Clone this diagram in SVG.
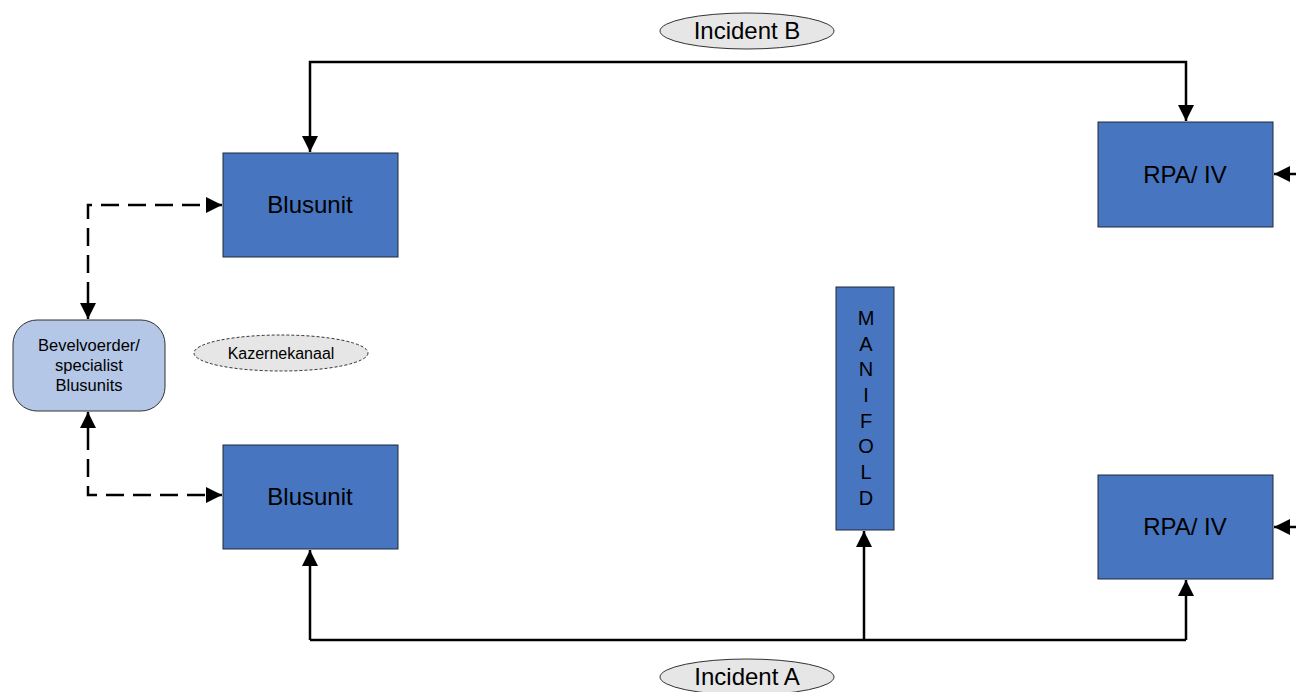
<svg xmlns="http://www.w3.org/2000/svg" width="1296" height="692" viewBox="0 0 1296 692">
<style>
.box{fill:#4775BF;stroke:#1F2A3A;stroke-width:1}
.t{font-family:"Liberation Sans",Arial,sans-serif;fill:#000;text-anchor:middle}
.line{fill:none;stroke:#000;stroke-width:2.5}
.dash{fill:none;stroke:#000;stroke-width:2.5;stroke-dasharray:18 9}
.ell{fill:#E6E6E6;stroke:#333;stroke-width:1}
</style>
<defs>
<marker id="ah" viewBox="0 0 10 10" refX="10" refY="5" markerWidth="6.5" markerHeight="6.5" markerUnits="strokeWidth" orient="auto">
<path d="M0,0 L10,5 L0,10 Z" fill="#000"/>
</marker>
</defs>
<rect width="1296" height="692" fill="#fff"/>
<g id="connectors">
<path class="line" d="M310,80 L310,62 L1186,62 L1186,80"/>
<path class="line" d="M310,80 L310,152" marker-end="url(#ah)"/>
<path class="line" d="M1186,80 L1186,121" marker-end="url(#ah)"/>
<path class="line" d="M310,640 L1186,640"/>
<path class="line" d="M310,640 L310,550" marker-end="url(#ah)"/>
<path class="line" d="M864,640 L864,531" marker-end="url(#ah)"/>
<path class="line" d="M1186,640 L1186,580" marker-end="url(#ah)"/>
<path class="line" d="M1296,174 L1274,174" marker-end="url(#ah)"/>
<path class="line" d="M1296,527 L1274,527" marker-end="url(#ah)"/>
<path class="dash" d="M88,300 L88,205 L222,205" marker-end="url(#ah)"/>
<path class="line" d="M88,300 L88,319" marker-end="url(#ah)"/>
<path class="dash" d="M88,432 L88,495 L222,495" marker-end="url(#ah)"/>
<path class="line" d="M88,432 L88,412" marker-end="url(#ah)"/>
</g>
<g id="incidentB">
<ellipse class="ell" cx="747" cy="31" rx="87" ry="18"/>
<text class="t" x="747" y="39" font-size="24">Incident B</text>
</g>
<g id="incidentA">
<ellipse class="ell" cx="747" cy="677" rx="87" ry="18"/>
<text class="t" x="747" y="685" font-size="24">Incident A</text>
</g>
<g id="blusunit1">
<rect class="box" x="223" y="153" width="175" height="104"/>
<text class="t" x="310" y="213" font-size="24">Blusunit</text>
</g>
<g id="blusunit2">
<rect class="box" x="223" y="445" width="175" height="104"/>
<text class="t" x="310" y="505" font-size="24">Blusunit</text>
</g>
<g id="rpa1">
<rect class="box" x="1098" y="122" width="175" height="105"/>
<text class="t" x="1185" y="183" font-size="24">RPA/ IV</text>
</g>
<g id="rpa2">
<rect class="box" x="1098" y="475" width="175" height="104"/>
<text class="t" x="1185" y="535" font-size="24">RPA/ IV</text>
</g>
<g id="manifold">
<rect class="box" x="836" y="287" width="58" height="243"/>
<g class="t" font-size="20">
<text x="866" y="325">M</text>
<text x="866" y="351">A</text>
<text x="866" y="376">N</text>
<text x="866" y="402">I</text>
<text x="866" y="428">F</text>
<text x="866" y="453">O</text>
<text x="866" y="479">L</text>
<text x="866" y="505">D</text>
</g>
</g>
<g id="bevelvoerder">
<rect x="13" y="320" width="152" height="91" rx="24" ry="24" fill="#B4C7E7" stroke="#333" stroke-width="1"/>
<text class="t" x="89" y="351" font-size="16.5">Bevelvoerder/</text>
<text class="t" x="89" y="371" font-size="16.5">specialist</text>
<text class="t" x="89" y="391" font-size="16.5">Blusunits</text>
</g>
<g id="kazernekanaal">
<ellipse cx="281" cy="353" rx="87" ry="18" fill="#E6E6E6" stroke="#333" stroke-width="1" stroke-dasharray="3 2"/>
<text class="t" x="281" y="359" font-size="16">Kazernekanaal</text>
</g>
</svg>
